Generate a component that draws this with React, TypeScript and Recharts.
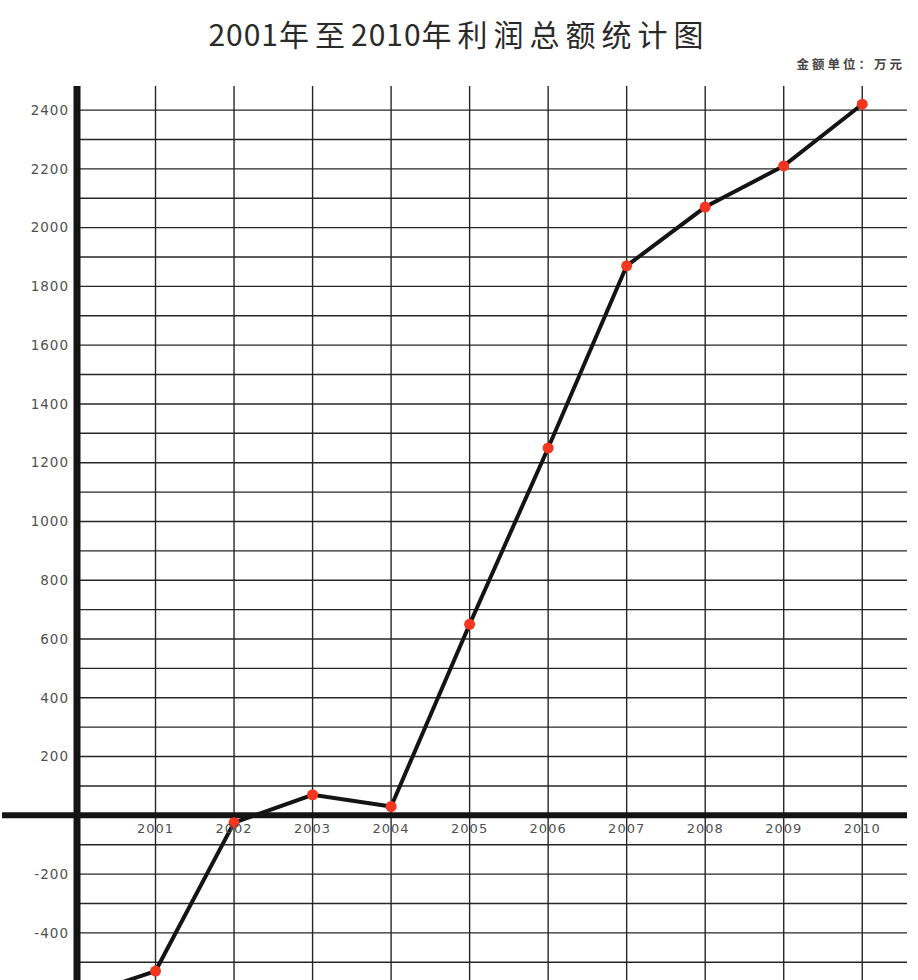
import { Line, LineChart, ReferenceDot, ReferenceLine, XAxis, YAxis } from "recharts";

// 2000 sits on the y axis and its point falls below the visible page; only the segment toward 2001 shows.
const years = [2000, 2001, 2002, 2003, 2004, 2005, 2006, 2007, 2008, 2009, 2010];
const profit = [-620, -530, -25, 70, 30, 650, 1250, 1870, 2070, 2210, 2420];

const yearTicks = [2001, 2002, 2003, 2004, 2005, 2006, 2007, 2008, 2009, 2010];
const valueTicks = [-400, -200, 200, 400, 600, 800, 1000, 1200, 1400, 1600, 1800, 2000, 2200, 2400];
const gridValues = [
  -600, -500, -400, -300, -200, -100, 100, 200, 300, 400, 500, 600, 700, 800, 900, 1000, 1100, 1200, 1300,
  1400, 1500, 1600, 1700, 1800, 1900, 2000, 2100, 2200, 2300, 2400,
];

const data = years.map((year, i) => ({ year, profit: profit[i] }));

const INK = "#141414";
const GRID = "#262626";
const LABEL = "#505050";
const DOT = "#f2361f";

function ZeroAxis(props: { y1?: number; y2?: number; x2?: number }) {
  // the x axis runs past the y axis to the left edge of the page
  return <line x1={2} y1={props.y1} x2={props.x2} y2={props.y2} stroke={INK} strokeWidth={6} />;
}

export default function App() {
  return (
    <div style={{ position: "relative", width: 918, height: 980, overflow: "hidden", background: "#fff" }}>
      <style>{"body{margin:0;overflow:hidden}"}</style>
      <div
        style={{
          position: "absolute",
          top: 18,
          left: 0,
          width: 918,
          textAlign: "center",
          fontFamily: '"Noto Sans CJK SC", sans-serif',
          fontSize: 30,
          lineHeight: "30px",
          color: "#2a2a2a",
        }}
      >
        <span style={{ letterSpacing: 1 }}>2001</span>
        <span style={{ letterSpacing: 6 }}>年至</span>
        <span style={{ letterSpacing: 1 }}>2010</span>
        <span style={{ letterSpacing: 6 }}>年利润总额统计图</span>
      </div>
      <div
        style={{
          position: "absolute",
          top: 57,
          right: 13,
          fontFamily: '"Noto Sans CJK SC", sans-serif',
          fontSize: 12.5,
          fontWeight: 700,
          lineHeight: "14px",
          letterSpacing: 3,
          color: "#444",
        }}
      >
        金额单位：万元
      </div>
      <div style={{ position: "absolute", top: 0, left: 0 }}>
        <LineChart width={918} height={1026} data={data} margin={{ top: 86, right: 11, bottom: 5, left: 0 }}>
          <XAxis dataKey="year" type="number" domain={[2000, 2010.57]} allowDataOverflow hide />
          <YAxis
            type="number"
            domain={[-700, 2482]}
            allowDataOverflow
            ticks={valueTicks}
            interval={0}
            width={77}
            tickLine={false}
            tickSize={6}
            tickMargin={2}
            axisLine={{ stroke: INK, strokeWidth: 7 }}
            tick={{ fill: LABEL, fontSize: 13.5, fontFamily: '"DejaVu Sans", sans-serif', letterSpacing: 1 }}
          />
          {gridValues.map((v) => (
            <ReferenceLine key={`h${v}`} y={v} stroke={GRID} strokeWidth={1.4} />
          ))}
          {yearTicks.map((y) => (
            <ReferenceLine key={`v${y}`} x={y} stroke={GRID} strokeWidth={1.4} />
          ))}
          <ReferenceLine y={0} shape={(p: any) => <ZeroAxis {...p} />} />
          {yearTicks.map((y) => (
            <ReferenceDot
              key={`l${y}`}
              x={y}
              y={0}
              r={0}
              fill="none"
              stroke="none"
              label={{
                value: String(y),
                position: "bottom",
                offset: 8,
                fill: LABEL,
                fontSize: 13,
                letterSpacing: 1,
                fontFamily: '"DejaVu Sans", sans-serif',
              }}
            />
          ))}
          <Line
            type="linear"
            dataKey="profit"
            stroke={INK}
            strokeWidth={4}
            dot={{ r: 5.5, fill: DOT, stroke: DOT, strokeWidth: 0 }}
            activeDot={false}
            isAnimationActive={false}
          />
        </LineChart>
      </div>
    </div>
  );
}
